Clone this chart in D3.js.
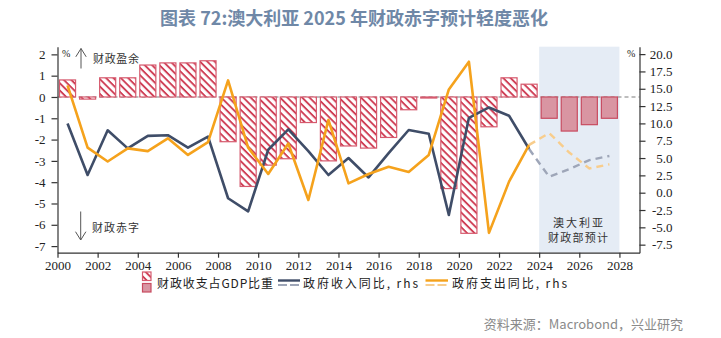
<!DOCTYPE html>
<html>
<head>
<meta charset="utf-8">
<script src="https://cdn.jsdelivr.net/npm/d3@7"></script>
<style>
  html, body { margin: 0; padding: 0; background: #fff; }
  svg { display: block; }
</style>
</head>
<body>
<svg id="chart" width="721" height="338"></svg>
<script>
// ---------------- data ----------------
const years = [2000,2001,2002,2003,2004,2005,2006,2007,2008,2009,2010,2011,2012,2013,
               2014,2015,2016,2017,2018,2019,2020,2021,2022,2023,2024,2025,2026,2027];
// fiscal balance, % of GDP (left axis); 2024-2027 = Treasury forecast
const balance = [0.8,-0.1,0.9,0.9,1.5,1.6,1.6,1.7,-2.1,-4.2,-3.2,-2.9,-1.2,-3.0,
                 -2.3,-2.4,-1.9,-0.6,-0.05,-4.3,-6.4,-1.4,0.9,0.6,-1.0,-1.6,-1.3,-1.0];
// government revenue yoy, % (right axis)
const revenueYoY = [10.0,2.55,9.0,6.4,8.2,8.3,6.5,8.1,-0.8,-2.7,6.2,9.15,6.0,2.55,
                    5.0,2.2,5.7,9.05,8.5,-3.2,10.8,12.3,11.1,6.3,2.3,3.4,4.7,5.3];
// government expenditure yoy, % (right axis)
const spendingYoY = [15.5,6.5,4.5,6.4,6.0,7.85,5.45,7.3,16.2,6.5,2.7,7.1,-1.05,10.5,
                     1.35,2.7,3.75,3.0,5.45,14.9,18.9,-5.8,1.6,6.9,8.6,5.8,3.5,4.1];
const lastActualYear = 2023;
const forecastSpan = [2024, 2028];
const xTicks = [2000,2002,2004,2006,2008,2010,2012,2014,2016,2018,2020,2022,2024,2026,2028];
const leftTicks = [-7,-6,-5,-4,-3,-2,-1,0,1,2];
const rightTicks = [-7.5,-5,-2.5,0,2.5,5,7.5,10,12.5,15,17.5,20];

const titleText = "图表 72:澳大利亚 2025 年财政赤字预计轻度恶化";
const sourceText = "资料来源：Macrobond，兴业研究";
const legendLabels = ["财政收支占GDP比重", "政府收入同比, rhs", "政府支出同比, rhs"];

// ---------------- layout ----------------
const L = 57.5, R = 639.5, T = 46.7, B = 252.7;
const svg = d3.select("#chart");
const cjk = "'Noto Sans CJK SC', 'Noto Sans', sans-serif";
const serif = "'Liberation Serif', 'DejaVu Serif', serif";

const x = d3.scaleLinear().domain([2000, 2029]).range([L, R]);
const yL = d3.scaleLinear().domain([-7.31, 2.36]).range([B, T]);
const yR = d3.scaleLinear().domain([-8.66, 21.07]).range([B, T]);
const band = x(2001) - x(2000);
const barW = band * 0.8;

const C = {
  blue: "#3f4d68", blueF: "#9ea6b8",
  orange: "#f5a21c", orangeF: "#f8cd8c",
  stripe: "#cf3f56", barStroke: "#d65a6e",
  fcFill: "#d995a2", fcStroke: "#c84b60",
  shade: "#e5ecf5", axis: "#333", text: "#222"
};

// hatch pattern
const defs = svg.append("defs");
const pat = defs.append("pattern").attr("id", "hatch")
  .attr("patternUnits", "userSpaceOnUse").attr("width", 5.2).attr("height", 5.2)
  .attr("patternTransform", "rotate(45)");
pat.append("rect").attr("width", 5.2).attr("height", 5.2).attr("fill", "#fff");
pat.append("rect").attr("width", 5.2).attr("height", 1.9).attr("fill", C.stripe);

// title
svg.append("text").attr("x", 354).attr("y", 25).attr("text-anchor", "middle")
  .attr("font-family", cjk).attr("font-weight", "bold").attr("font-size", 18)
  .attr("fill", "#6f88a7").text(titleText);

// forecast shading
svg.append("rect").attr("x", x(forecastSpan[0])).attr("y", T)
  .attr("width", x(forecastSpan[1]) - x(forecastSpan[0])).attr("height", B - T)
  .attr("fill", C.shade);

// zero line
svg.append("line").attr("x1", L).attr("x2", R).attr("y1", yL(0)).attr("y2", yL(0))
  .attr("stroke", "#a8a8a8").attr("stroke-width", 1.5).attr("stroke-dasharray", "4,3");

// bars
const barData = years.map((yr, i) => ({ yr, v: balance[i], fc: yr > lastActualYear }));
svg.append("g").selectAll("rect").data(barData).join("rect")
  .attr("x", d => x(d.yr + 0.5) - barW / 2)
  .attr("y", d => yL(Math.max(0, d.v)))
  .attr("width", barW)
  .attr("height", d => Math.abs(yL(d.v) - yL(0)))
  .attr("fill", d => d.fc ? C.fcFill : "url(#hatch)")
  .attr("stroke", d => d.fc ? C.fcStroke : C.barStroke)
  .attr("stroke-width", 1.2);

// lines
function drawSeries(vals, color, colorF) {
  const pts = years.map((yr, i) => ({ yr, v: vals[i] }));
  const line = d3.line().x(d => x(d.yr + 0.5)).y(d => yR(d.v));
  svg.append("path").datum(pts.filter(d => d.yr <= lastActualYear)).attr("d", line)
    .attr("fill", "none").attr("stroke", color).attr("stroke-width", 2.6)
    .attr("stroke-linejoin", "round");
  svg.append("path").datum(pts.filter(d => d.yr >= lastActualYear)).attr("d", line)
    .attr("fill", "none").attr("stroke", colorF).attr("stroke-width", 2.4)
    .attr("stroke-dasharray", "7,5");
}
drawSeries(revenueYoY, C.blue, C.blueF);
drawSeries(spendingYoY, C.orange, C.orangeF);

// axes
function styleAxis(g) {
  g.select(".domain").attr("stroke", C.axis).attr("stroke-width", 1.2);
  g.selectAll(".tick line").attr("stroke", C.axis).attr("stroke-width", 1.2);
  g.selectAll(".tick text").attr("fill", C.text).attr("font-family", serif).attr("font-size", 13);
}
svg.append("g").attr("transform", `translate(${L},0)`)
  .call(d3.axisLeft(yL).tickValues(leftTicks).tickSize(6).tickSizeOuter(0).tickPadding(6)
    .tickFormat(d => String(d)))
  .call(styleAxis);
const gr = svg.append("g").attr("transform", `translate(${R},0)`)
  .call(d3.axisRight(yR).tickValues(rightTicks).tickSize(6).tickSizeOuter(0).tickPadding(6)
    .tickFormat(d => d.toFixed(1)))
  .call(styleAxis);
gr.selectAll(".tick text").attr("text-anchor", "end").attr("x", 33);
svg.append("g").attr("transform", `translate(0,${B})`)
  .call(d3.axisBottom(x).tickValues(xTicks).tickSize(5).tickSizeOuter(0).tickPadding(3)
    .tickFormat(d => String(d)))
  .call(styleAxis);

// % units
svg.append("text").attr("x", 62).attr("y", 57).attr("font-family", serif).attr("font-size", 10)
  .attr("fill", C.text).text("%");
svg.append("text").attr("x", 627).attr("y", 57).attr("font-family", serif).attr("font-size", 10)
  .attr("fill", C.text).text("%");

// arrows + annotations
const ann = svg.append("g").attr("stroke", "#555").attr("stroke-width", 1).attr("fill", "none");
ann.append("path").attr("d", "M81,68.5 L81,48.5 M75.8,56.8 L81,48.5 L86.2,56.8");
ann.append("path").attr("d", "M80.7,211.5 L80.7,240 M75.5,231.7 L80.7,240 L85.9,231.7");
svg.append("text").attr("x", 93).attr("y", 62.5).attr("font-family", cjk).attr("font-size", 11)
  .attr("fill", "#333").attr("textLength", 46).attr("lengthAdjust", "spacing").text("财政盈余");
svg.append("text").attr("x", 92).attr("y", 231.5).attr("font-family", cjk).attr("font-size", 11)
  .attr("fill", "#333").attr("textLength", 47).attr("lengthAdjust", "spacing").text("财政赤字");
svg.append("text").attr("x", 553).attr("y", 227).attr("font-family", cjk).attr("font-size", 11)
  .attr("fill", "#333").attr("textLength", 50).attr("lengthAdjust", "spacing").text("澳大利亚");
svg.append("text").attr("x", 548).attr("y", 241.5).attr("font-family", cjk).attr("font-size", 11)
  .attr("fill", "#333").attr("textLength", 60).attr("lengthAdjust", "spacing").text("财政部预计");

// legend
const lg = svg.append("g");
lg.append("rect").attr("x", 142.5).attr("y", 272).attr("width", 8.5).attr("height", 8.5)
  .attr("fill", "url(#hatch)").attr("stroke", C.barStroke).attr("stroke-width", 1.2);
lg.append("rect").attr("x", 142.5).attr("y", 283.5).attr("width", 8.5).attr("height", 8.5)
  .attr("fill", C.fcFill).attr("stroke", C.fcStroke).attr("stroke-width", 1.2);
lg.append("text").attr("x", 157).attr("y", 287.5).attr("font-family", cjk).attr("font-size", 12)
  .attr("fill", C.text).attr("textLength", 116).attr("lengthAdjust", "spacing").text(legendLabels[0]);

lg.append("line").attr("x1", 278).attr("x2", 300).attr("y1", 280.5).attr("y2", 280.5)
  .attr("stroke", C.blue).attr("stroke-width", 2.4);
lg.append("line").attr("x1", 278).attr("x2", 300).attr("y1", 285).attr("y2", 285)
  .attr("stroke", C.blueF).attr("stroke-width", 2.2).attr("stroke-dasharray", "9,3");
lg.append("text").attr("x", 303).attr("y", 287.5).attr("font-family", cjk).attr("font-size", 12)
  .attr("fill", C.text).attr("textLength", 115).attr("lengthAdjust", "spacing").text(legendLabels[1]);

lg.append("line").attr("x1", 425.5).attr("x2", 448).attr("y1", 280.5).attr("y2", 280.5)
  .attr("stroke", C.orange).attr("stroke-width", 2.4);
lg.append("line").attr("x1", 425.5).attr("x2", 448).attr("y1", 285).attr("y2", 285)
  .attr("stroke", C.orangeF).attr("stroke-width", 2.2).attr("stroke-dasharray", "9,3");
lg.append("text").attr("x", 452).attr("y", 287.5).attr("font-family", cjk).attr("font-size", 12)
  .attr("fill", C.text).attr("textLength", 115).attr("lengthAdjust", "spacing").text(legendLabels[2]);

// source
svg.append("text").attr("x", 683).attr("y", 329).attr("text-anchor", "end")
  .attr("font-family", cjk).attr("font-size", 13).attr("fill", "#8a8a8a").text(sourceText);
</script>
</body>
</html>
